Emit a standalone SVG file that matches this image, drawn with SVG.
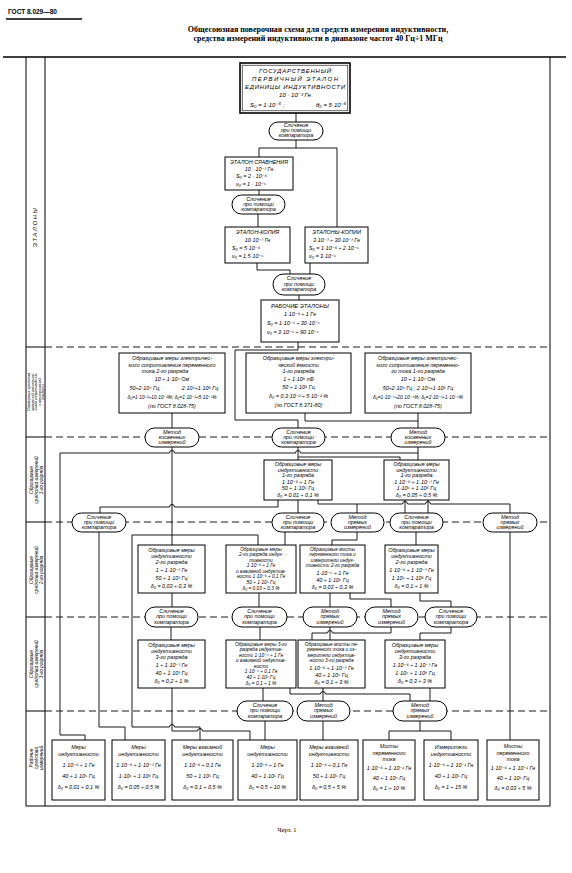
<svg xmlns="http://www.w3.org/2000/svg" width="572" height="873" viewBox="0 0 572 873">
<style>
.bx{fill:#fff;stroke:#000;stroke-width:1}
.ov{fill:#fff;stroke:#000;stroke-width:1}
.ln{fill:none;stroke:#000;stroke-width:0.9}
.ds{fill:none;stroke:#000;stroke-width:0.9;stroke-dasharray:7 4}
.fr{fill:none;stroke:#000;stroke-width:1}
text{font-family:"Liberation Sans","DejaVu Sans",sans-serif;font-style:italic;fill:#000}
.t{font-size:5.4px;text-anchor:middle}
.s{font-size:4.8px;text-anchor:middle}
.l{font-size:5.4px}
.e{font-size:6px;text-anchor:middle}
.lab{font-size:4.8px;text-anchor:middle}
.hd{font-family:"Liberation Serif","DejaVu Serif",serif;font-style:normal;font-weight:bold;text-anchor:middle;font-size:8px}
</style>
<rect width="572" height="873" fill="#fff"/>
<g id="header">
<text x="8" y="14" style="font-style:normal;font-weight:bold;font-size:6.5px">ГОСТ 8.029—80</text>
<path d="M6,19 H82" stroke="#000" stroke-width="1.6"/>
<text class="hd" x="318" y="32">Общесоюзная поверочная схема для средств измерения индуктивности,</text>
<text class="hd" x="318" y="40.5">средства измерений индуктивности в диапазоне частот 40 Гц÷1 МГц</text>
<path d="M3,57 H566" stroke="#000" stroke-width="1.3"/>
</g>
<g id="frame">
<path class="fr" d="M26,57 V806 H550 V57 M45,57 V806 M26,347 H45 M26,437 H45 M26,522 H45 M26,617 H45 M26,711 H45"/>
<path class="ds" d="M45,347 H550 M45,437 H550 M45,522 H550 M45,617 H550 M45,711 H550"/>
<text class="lab" transform="translate(37,227) rotate(-90)" style="font-size:6px;letter-spacing:1.5px">ЭТАЛОНЫ</text>
<text class="lab" transform="translate(36,392) rotate(-90)" style="font-size:3.6px"><tspan x="0" y="-6">Образцовые средства</tspan><tspan x="0" y="-2.5">измерений электриче-</tspan><tspan x="0" y="1">ского сопротивления</tspan><tspan x="0" y="4.5">и электрической</tspan><tspan x="0" y="8">ёмкости</tspan></text>
<text class="lab" transform="translate(36,480) rotate(-90)"><tspan x="0" y="-3.5">Образцовые</tspan><tspan x="0" y="1.5">средства измерений</tspan><tspan x="0" y="6.5">1-го разряда</tspan></text>
<text class="lab" transform="translate(36,570) rotate(-90)"><tspan x="0" y="-3.5">Образцовые</tspan><tspan x="0" y="1.5">средства измерений</tspan><tspan x="0" y="6.5">2-го разряда</tspan></text>
<text class="lab" transform="translate(36,664) rotate(-90)"><tspan x="0" y="-3.5">Образцовые</tspan><tspan x="0" y="1.5">средства измерений</tspan><tspan x="0" y="6.5">3-го разряда</tspan></text>
<text class="lab" transform="translate(36,758) rotate(-90)"><tspan x="0" y="-3.5">Рабочие</tspan><tspan x="0" y="1.5">средства</tspan><tspan x="0" y="6.5">измерений</tspan></text>
</g>
<g id="connectors" class="ln">
<path d="M296,113 V122"/>
<path d="M296,140 V148 M259,148 H337 M259,148 V157 M337,148 V227"/>
<path d="M259,190 V195"/>
<path d="M258,214 V227"/>
<path d="M257,263 V270 H290 V274"/>
<path d="M310,263 V274"/>
<path d="M299,295 V300"/>
<path d="M298,342 V350 H235 V420 H298 V428"/>
<path d="M172,413 V428"/>
<path d="M305,413 V421 H418"/>
<path d="M418,413 V428"/>
<path d="M418,447 V460"/>
<path d="M60,453 H169.5 a2.5,2.5 0 0 1 5,0 H295.5 a2.5,2.5 0 0 1 5,0 H418"/>
<path d="M60,453 V735 H85 V740"/>
<path d="M172,447 V545"/>
<path d="M172,535 H258 V545"/>
<path d="M172,535 H132 V727 H169.5 a2.5,2.5 0 0 1 5,0 H200 V740"/>
<path d="M298,447 V460"/>
<path d="M298,457 H400 V460"/>
<path d="M278,500 V507 H174.5 a2.5,2.5 0 0 0 -5,0 H100 V513"/>
<path d="M298,500 V513"/>
<path d="M318,500 V504 H402.5 a2.5,2.5 0 0 1 5,0 H425.5 a2.5,2.5 0 0 1 5,0 H510 V513"/>
<path d="M357,504 V513"/>
<path d="M405,500 V513"/>
<path d="M428,500 V513"/>
<path d="M99,532 V727 H125 V740"/>
<path d="M285,532 V545"/>
<path d="M357,532 V540 H332 V545"/>
<path d="M416,532 V545"/>
<path d="M510,532 V740"/>
<path d="M172,593 V607"/>
<path d="M259,593 V607"/>
<path d="M330,593 V607"/>
<path d="M350,593 V599 H391 V607"/>
<path d="M420,593 V601 H451 V607"/>
<path d="M171,627 V640"/>
<path d="M260,627 V640"/>
<path d="M330,627 V640"/>
<path d="M391,627 V633 H332.5 a2.5,2.5 0 0 0 -5,0 H312 V640"/>
<path d="M451,627 V633 H420 V640"/>
<path d="M172,688 V731 H197.5 a2.5,2.5 0 0 1 5,0 H250 V740"/>
<path d="M263,688 V701"/>
<path d="M323,688 V701"/>
<path d="M290,688 V694 H320.5 a2.5,2.5 0 0 1 5,0 H410 V701"/>
<path d="M430,688 V701"/>
<path d="M265,721 V740"/>
<path d="M323,721 V740"/>
<path d="M420,721 V731 H389 V740 M420,731 H451 V740"/>
</g>
<g id="n-primary">
<rect class="bx" x="240" y="63" width="110" height="50" style="stroke-width:1.6"/>
<rect x="242.2" y="65.2" width="105.6" height="45.6" fill="none" stroke="#000" stroke-width="0.6"/>
<text class="e" x="295" y="73" textLength="72" lengthAdjust="spacing">ГОСУДАРСТВЕННЫЙ</text>
<text class="e" x="295" y="81" textLength="86" lengthAdjust="spacing">ПЕРВИЧНЫЙ ЭТАЛОН</text>
<text class="e" x="295" y="89" textLength="100" lengthAdjust="spacing">ЕДИНИЦЫ ИНДУКТИВНОСТИ</text>
<text class="e" x="295" y="97">10 · 10⁻³ Гн</text>
<text class="l" x="250" y="107" style="font-size:6px">S₀ = 1·10⁻⁶ ;</text>
<text class="l" x="316" y="107" style="font-size:6px">θ₀ = 5·10⁻⁶</text>
</g>
<g id="o-cmp1">
<rect class="ov" x="269" y="122" width="54" height="18" rx="9"/>
<text class="t" x="296" y="127.4">Сличение</text><text class="t" x="296" y="132.4">при помощи</text><text class="t" x="296" y="137.4">компаратора</text>
</g>
<g id="n-comparison">
<rect class="bx" x="225" y="157" width="68" height="33"/>
<text class="t" x="259" y="163.5" style="font-size:5.5px">ЭТАЛОН  СРАВНЕНИЯ</text>
<text class="t" x="259" y="170.5">10 · 10⁻³ Гн</text>
<text class="l" x="236" y="178">S₀ = 2 · 10⁻⁶</text>
<text class="l" x="236" y="185.5">ν₀ = 1 · 10⁻⁵</text>
</g>
<g id="o-cmp2">
<rect class="ov" x="232" y="195" width="53" height="19" rx="9.5"/>
<text class="t" x="258.5" y="200.6">Сличение</text><text class="t" x="258.5" y="205.6">при помощи</text><text class="t" x="258.5" y="210.6">компаратора</text>
</g>
<g id="n-copy">
<rect class="bx" x="225" y="227" width="65" height="36"/>
<text class="t" x="257.5" y="234" style="font-size:5.5px">ЭТАЛОН-КОПИЯ</text>
<text class="t" x="257.5" y="241.5">10·10⁻³ Гн</text>
<text class="l" x="232" y="249.5">S₀ = 5·10⁻⁶</text>
<text class="l" x="232" y="257.5">ν₀ = 1,5·10⁻⁵</text>
</g>
<g id="n-copies">
<rect class="bx" x="305" y="227" width="63" height="36"/>
<text class="t" x="336.5" y="234" style="font-size:5.5px">ЭТАЛОНЫ-КОПИИ</text>
<text class="t" x="336.5" y="241.5">3·10⁻³ ÷ 30·10⁻³ Гн</text>
<text class="l" x="309" y="249.5">S₀ = 1·10⁻⁶ ÷ 2·10⁻⁵</text>
<text class="l" x="309" y="257.5">ν₀ = 3·10⁻⁵</text>
</g>
<g id="o-cmp3">
<rect class="ov" x="273" y="274" width="52" height="21" rx="10.5"/>
<text class="t" x="299" y="280">Сличение</text><text class="t" x="299" y="285.5">при помощи</text><text class="t" x="299" y="291">компаратора</text>
</g>
<g id="n-working">
<rect class="bx" x="261" y="300" width="78" height="42"/>
<text class="t" x="300" y="307.5" style="font-size:5.8px">РАБОЧИЕ  ЭТАЛОНЫ</text>
<text class="t" x="300" y="315.5">1·10⁻⁶ ÷ 1 Гн</text>
<text class="l" x="267" y="325">S₀ = 1·10⁻⁵ ÷ 30·10⁻⁵</text>
<text class="l" x="267" y="334">ν₀ = 3·10⁻⁵ ÷ 90·10⁻⁵</text>
</g>
<g id="n-res2">
<rect class="bx" x="119" y="353" width="106" height="60"/>
<text class="t" x="172" y="360">Образцовые меры электричес-</text>
<text class="t" x="172" y="366.5">кого сопротивления переменного</text>
<text class="t" x="165" y="373">тока  2-го разряда</text>
<text class="t" x="172" y="381">10 ÷ 1·10⁴ Ом</text>
<text class="t" x="145" y="390">50÷2·10⁴ Гц;</text>
<text class="t" x="200" y="390">2·10⁴÷1·10⁶ Гц</text>
<text class="s" x="172" y="399">δ₀=1·10⁻²÷10·10⁻²%;  δ₀=1·10⁻²÷5·10⁻¹%</text>
<text class="t" x="172" y="408">(по ГОСТ 8.028-75)</text>
</g>
<g id="n-cap1">
<rect class="bx" x="246" y="353" width="105" height="60"/>
<text class="t" x="298.5" y="360">Образцовые меры электри-</text>
<text class="t" x="298.5" y="366.5">ческой ёмкости</text>
<text class="t" x="298.5" y="373">1-го разряда</text>
<text class="t" x="298.5" y="381">1 ÷ 1·10⁶ пФ</text>
<text class="t" x="298.5" y="389">50 ÷ 1·10⁶ Гц</text>
<text class="t" x="298.5" y="398">δ₀ = 0,3·10⁻² ÷ 5·10⁻² %</text>
<text class="t" x="298.5" y="407">(по ГОСТ 8.371-80)</text>
</g>
<g id="n-res1">
<rect class="bx" x="365" y="353" width="106" height="60"/>
<text class="t" x="418" y="360">Образцовые меры электричес-</text>
<text class="t" x="418" y="366.5">кого сопротивления переменно-</text>
<text class="t" x="418" y="373">го тока  1-го разряда</text>
<text class="t" x="418" y="381">10 ÷ 1·10⁴ Ом</text>
<text class="t" x="418" y="390">50÷2·10⁴ Гц ;  2·10⁴÷1·10⁶ Гц</text>
<text class="s" x="418" y="399">δ₀=1·10⁻⁴÷20·10⁻⁴%; δ₀=2·10⁻³÷1·10⁻¹%</text>
<text class="t" x="418" y="408">(по ГОСТ 8.028-75)</text>
</g>
<g id="o-ind1">
<rect class="ov" x="145" y="428" width="54" height="19" rx="9.5"/>
<text class="t" x="172" y="433.6">Метод</text><text class="t" x="172" y="438.9">косвенных</text><text class="t" x="172" y="444.2">измерений</text>
</g>
<g id="o-cmp4">
<rect class="ov" x="272" y="428" width="53" height="19" rx="9.5"/>
<text class="t" x="298.5" y="433.6">Сличение</text><text class="t" x="298.5" y="438.9">при помощи</text><text class="t" x="298.5" y="444.2">компаратора</text>
</g>
<g id="o-ind2">
<rect class="ov" x="391" y="428" width="54" height="19" rx="9.5"/>
<text class="t" x="418" y="433.6">Метод</text><text class="t" x="418" y="438.9">косвенных</text><text class="t" x="418" y="444.2">измерений</text>
</g>
<g id="n-l1a">
<rect class="bx" x="264" y="460" width="68" height="40"/>
<text class="t" x="298" y="466">Образцовые   меры</text>
<text class="t" x="298" y="471.5">индуктивности</text>
<text class="t" x="298" y="477">1-го разряда</text>
<text class="t" x="298" y="483.5">1·10⁻⁶ ÷ 1 Гн</text>
<text class="t" x="298" y="490">50 ÷ 1·10⁵ Гц</text>
<text class="t" x="298" y="496.5">δ₀ = 0,01 ÷ 0,1 %</text>
</g>
<g id="n-l1b">
<rect class="bx" x="384" y="460" width="65" height="40"/>
<text class="t" x="416.5" y="466">Образцовые   меры</text>
<text class="t" x="416.5" y="471.5">индуктивности</text>
<text class="t" x="416.5" y="477">1-го разряда</text>
<text class="t" x="416.5" y="483.5">1·10⁻⁶ ÷ 1·10⁻³ Гн</text>
<text class="t" x="416.5" y="490">1·10⁵ ÷ 1·10⁶ Гц</text>
<text class="t" x="416.5" y="496.5">δ₀ = 0,05 ÷ 0,5 %</text>
</g>
<g id="o-r2a">
<rect class="ov" x="72" y="513" width="54" height="19" rx="9.5"/>
<text class="t" x="99" y="518.6">Сличение</text><text class="t" x="99" y="523.9">при помощи</text><text class="t" x="99" y="529.2">компаратора</text>
</g>
<g id="o-r2b">
<rect class="ov" x="272" y="513" width="52" height="19" rx="9.5"/>
<text class="t" x="298" y="518.6">Сличение</text><text class="t" x="298" y="523.9">при помощи</text><text class="t" x="298" y="529.2">компаратора</text>
</g>
<g id="o-r2c">
<rect class="ov" x="331" y="513" width="53" height="19" rx="9.5"/>
<text class="t" x="357.5" y="518.6">Метод</text><text class="t" x="357.5" y="523.9">прямых</text><text class="t" x="357.5" y="529.2">измерений</text>
</g>
<g id="o-r2d">
<rect class="ov" x="390" y="513" width="53" height="19" rx="9.5"/>
<text class="t" x="416.5" y="518.6">Сличение</text><text class="t" x="416.5" y="523.9">при помощи</text><text class="t" x="416.5" y="529.2">компаратора</text>
</g>
<g id="o-r2e">
<rect class="ov" x="483" y="513" width="54" height="19" rx="9.5"/>
<text class="t" x="510" y="518.6">Метод</text><text class="t" x="510" y="523.9">прямых</text><text class="t" x="510" y="529.2">измерений</text>
</g>
<g id="n-l2a">
<rect class="bx" x="138" y="545" width="67" height="48"/>
<text class="t" x="171.5" y="552">Образцовые   меры</text>
<text class="t" x="171.5" y="558">индуктивности</text>
<text class="t" x="171.5" y="564">2-го разряда</text>
<text class="t" x="171.5" y="572">1 ÷ 1·10⁻³ Гн</text>
<text class="t" x="171.5" y="580">50 ÷ 1·10³ Гц</text>
<text class="t" x="171.5" y="588">δ₀ = 0,03 ÷ 0,3 %</text>
</g>
<g id="n-l2b">
<rect class="bx" x="226" y="545" width="70" height="48"/>
<text class="s" x="261" y="550.5">Образцовые меры</text>
<text class="s" x="261" y="556">2-го разряда индук-</text>
<text class="s" x="261" y="561.5">тивности</text>
<text class="s" x="261" y="567">1·10⁻⁶ ÷ 1 Гн</text>
<text class="s" x="261" y="572.5">и взаимной индуктив-</text>
<text class="s" x="261" y="578">ности 1·10⁻⁶ ÷ 0,1 Гн</text>
<text class="s" x="261" y="584">50 ÷ 1·10⁵ Гц</text>
<text class="s" x="261" y="590">δ₀ = 0,03 ÷ 0,3 %</text>
</g>
<g id="n-l2c">
<rect class="bx" x="300" y="545" width="65" height="48"/>
<text class="s" x="332.5" y="550.5">Образцовые мосты</text>
<text class="s" x="332.5" y="556">переменного тока и</text>
<text class="s" x="332.5" y="561.5">измерители индук-</text>
<text class="s" x="332.5" y="567">тивности 2-го разряда</text>
<text class="t" x="332.5" y="575">1·10⁻⁵ ÷ 1 Гн</text>
<text class="t" x="332.5" y="582">40 ÷ 1·10⁵ Гц</text>
<text class="t" x="332.5" y="589">δ₀ = 0,03 ÷ 0,3 %</text>
</g>
<g id="n-l2d">
<rect class="bx" x="385" y="545" width="53" height="48"/>
<text class="t" x="411.5" y="551.5">Образцовые  меры</text>
<text class="t" x="411.5" y="557.5">индуктивности</text>
<text class="t" x="411.5" y="563.5">2-го разряда</text>
<text class="t" x="411.5" y="571.5">1·10⁻⁶ ÷ 1·10⁻³ Гн</text>
<text class="t" x="411.5" y="579.5">1·10⁵ ÷ 1·10⁶ Гц</text>
<text class="t" x="411.5" y="587.5">δ₀ = 0,1 ÷ 1 %</text>
</g>
<g id="o-r3a">
<rect class="ov" x="145" y="607" width="53" height="20" rx="10"/>
<text class="t" x="171.5" y="612.8">Сличение</text><text class="t" x="171.5" y="618.3">при помощи</text><text class="t" x="171.5" y="623.8">компаратора</text>
</g>
<g id="o-r3b">
<rect class="ov" x="232" y="607" width="55" height="20" rx="10"/>
<text class="t" x="259.5" y="612.8">Сличение</text><text class="t" x="259.5" y="618.3">при помощи</text><text class="t" x="259.5" y="623.8">компаратора</text>
</g>
<g id="o-r3c">
<rect class="ov" x="303" y="607" width="54" height="20" rx="10"/>
<text class="t" x="330" y="612.8">Метод</text><text class="t" x="330" y="618.3">прямых</text><text class="t" x="330" y="623.8">измерений</text>
</g>
<g id="o-r3d">
<rect class="ov" x="365" y="607" width="53" height="20" rx="10"/>
<text class="t" x="391.5" y="612.8">Метод</text><text class="t" x="391.5" y="618.3">прямых</text><text class="t" x="391.5" y="623.8">измерений</text>
</g>
<g id="o-r3e">
<rect class="ov" x="425" y="607" width="52" height="20" rx="10"/>
<text class="t" x="451" y="612.8">Сличение</text><text class="t" x="451" y="618.3">при помощи</text><text class="t" x="451" y="623.8">компаратора</text>
</g>
<g id="n-l3a">
<rect class="bx" x="138" y="640" width="67" height="48"/>
<text class="t" x="171.5" y="647">Образцовые   меры</text>
<text class="t" x="171.5" y="653">индуктивности</text>
<text class="t" x="171.5" y="659">3-го разряда</text>
<text class="t" x="171.5" y="667">1 ÷ 1·10⁻³ Гн</text>
<text class="t" x="171.5" y="675">40 ÷ 1·10³ Гц</text>
<text class="t" x="171.5" y="683">δ₀ = 0,2 ÷ 1 %</text>
</g>
<g id="n-l3b">
<rect class="bx" x="226" y="640" width="70" height="48"/>
<text class="s" x="261" y="645.5">Образцовые меры 3-го</text>
<text class="s" x="261" y="651">разряда индуктив-</text>
<text class="s" x="261" y="656.5">ности 1·10⁻⁴ ÷ 1 Гн</text>
<text class="s" x="261" y="662">и взаимной индуктив-</text>
<text class="s" x="261" y="667.5">ности</text>
<text class="s" x="261" y="673">1·10⁻⁴ ÷ 0,1 Гн</text>
<text class="s" x="261" y="679">40 ÷ 1·10⁵ Гц</text>
<text class="s" x="261" y="685">δ₀ = 0,1 ÷ 1 %</text>
</g>
<g id="n-l3c">
<rect class="bx" x="298" y="640" width="67" height="48"/>
<text class="s" x="331.5" y="645.5">Образцовые мосты пе-</text>
<text class="s" x="331.5" y="651">ременного тока и из-</text>
<text class="s" x="331.5" y="656.5">мерители индуктив-</text>
<text class="s" x="331.5" y="662">ности 3-го разряда</text>
<text class="t" x="331.5" y="670">1·10⁻⁶ ÷ 1·10⁻³ Гн</text>
<text class="t" x="331.5" y="677">40 ÷ 1·10⁵ Гц</text>
<text class="t" x="331.5" y="684">δ₀ = 0,1 ÷ 3 %</text>
</g>
<g id="n-l3d">
<rect class="bx" x="385" y="640" width="60" height="48"/>
<text class="t" x="415" y="646.5">Образцовые   меры</text>
<text class="t" x="415" y="652.5">индуктивности</text>
<text class="t" x="415" y="658.5">3-го разряда</text>
<text class="t" x="415" y="666.5">1·10⁻⁶ ÷ 1·10⁻³ Гн</text>
<text class="t" x="415" y="674.5">1·10⁵ ÷ 1·10⁶ Гц</text>
<text class="t" x="415" y="682.5">δ₀ = 0,3 ÷ 3 %</text>
</g>
<g id="o-r4a">
<rect class="ov" x="237" y="701" width="56" height="20" rx="10"/>
<text class="t" x="265" y="706.8">Сличение</text><text class="t" x="265" y="712.3">при помощи</text><text class="t" x="265" y="717.8">компаратора</text>
</g>
<g id="o-r4b">
<rect class="ov" x="297" y="701" width="53" height="20" rx="10"/>
<text class="t" x="323.5" y="706.8">Метод</text><text class="t" x="323.5" y="712.3">прямых</text><text class="t" x="323.5" y="717.8">измерений</text>
</g>
<g id="o-r4c">
<rect class="ov" x="393" y="701" width="54" height="20" rx="10"/>
<text class="t" x="420" y="706.8">Метод</text><text class="t" x="420" y="712.3">прямых</text><text class="t" x="420" y="717.8">измерений</text>
</g>
<g id="n-w1">
<rect class="bx" x="52" y="740" width="53" height="60"/>
<text class="t" x="78.5" y="749">Меры</text><text class="t" x="78.5" y="756">индуктивности</text>
<text class="t" x="78.5" y="767">1·10⁻⁶ ÷ 1 Гн</text><text class="t" x="78.5" y="778">40 ÷ 1·10⁵ Гц</text><text class="t" x="78.5" y="789">δ₀ = 0,01 ÷ 0,1 %</text>
</g>
<g id="n-w2">
<rect class="bx" x="112" y="740" width="53" height="60"/>
<text class="t" x="138.5" y="749">Меры</text><text class="t" x="138.5" y="756">индуктивности</text>
<text class="t" x="138.5" y="767">1·10⁻⁶ ÷ 1·10⁻³ Гн</text><text class="t" x="138.5" y="778">1·10⁵ ÷ 1·10⁶ Гц</text><text class="t" x="138.5" y="789">δ₀ = 0,05 ÷ 0,5 %</text>
</g>
<g id="n-w3">
<rect class="bx" x="172" y="740" width="61" height="60"/>
<text class="t" x="202.5" y="749">Меры взаимной</text><text class="t" x="202.5" y="756">индуктивности</text>
<text class="t" x="202.5" y="767">1·10⁻⁶ ÷ 0,1 Гн</text><text class="t" x="202.5" y="778">50 ÷ 1·10⁵ Гц</text><text class="t" x="202.5" y="789">δ₀ = 0,1 ÷ 0,5 %</text>
</g>
<g id="n-w4">
<rect class="bx" x="238" y="740" width="59" height="60"/>
<text class="t" x="267.5" y="749">Меры</text><text class="t" x="267.5" y="756">индуктивности</text>
<text class="t" x="267.5" y="767">1·10⁻⁶ ÷ 1 Гн</text><text class="t" x="267.5" y="778">40 ÷ 1·10⁵ Гц</text><text class="t" x="267.5" y="789">δ₀ = 0,5 ÷ 10 %</text>
</g>
<g id="n-w5">
<rect class="bx" x="300" y="740" width="58" height="60"/>
<text class="t" x="329" y="749">Меры взаимной</text><text class="t" x="329" y="756">индуктивности</text>
<text class="t" x="329" y="767">1·10⁻⁶ ÷ 0,1 Гн</text><text class="t" x="329" y="778">50 ÷ 1·10⁵ Гц</text><text class="t" x="329" y="789">δ₀ = 0,5 ÷ 5 %</text>
</g>
<g id="n-w6">
<rect class="bx" x="363" y="740" width="52" height="60"/>
<text class="t" x="389" y="748">Мосты</text><text class="t" x="389" y="754.5">переменного</text><text class="t" x="389" y="761">тока</text>
<text class="t" x="389" y="770">1·10⁻⁶ ÷ 1·10⁻¹ Гн</text><text class="t" x="389" y="780">40 ÷ 1·10⁵ Гц</text><text class="t" x="389" y="790">δ₀ = 1 ÷ 10 %</text>
</g>
<g id="n-w7">
<rect class="bx" x="424" y="740" width="54" height="60"/>
<text class="t" x="451" y="749">Измерители</text><text class="t" x="451" y="756">индуктивности</text>
<text class="t" x="451" y="767">1·10⁻⁶ ÷ 1·10⁻¹ Гн</text><text class="t" x="451" y="778">40 ÷ 1·10⁵ Гц</text><text class="t" x="451" y="789">δ₀ = 1 ÷ 15 %</text>
</g>
<g id="n-w8">
<rect class="bx" x="487" y="740" width="52" height="60"/>
<text class="t" x="513" y="748">Мосты</text><text class="t" x="513" y="754.5">переменного</text><text class="t" x="513" y="761">тока</text>
<text class="t" x="513" y="770">1·10⁻⁶ ÷ 1·10⁻¹ Гн</text><text class="t" x="513" y="780">40 ÷ 1·10⁵ Гц</text><text class="t" x="513" y="790">δ₀ = 0,03 ÷ 5 %</text>
</g>
<g id="caption">
<text x="287" y="832" style="font-family:'Liberation Serif',serif;font-style:normal;font-size:6.5px;text-anchor:middle">Черт. 1</text>
</g>
</svg>
